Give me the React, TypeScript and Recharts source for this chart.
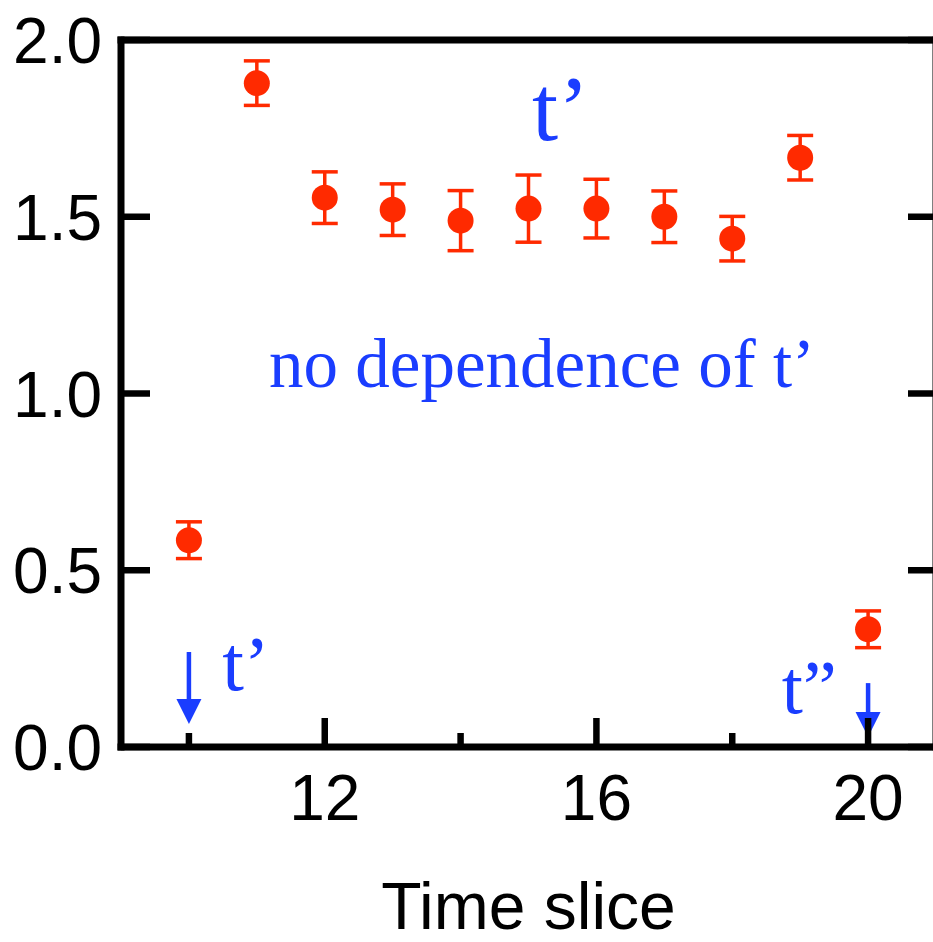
import React from 'react';
import { ScatterChart, Scatter, XAxis, YAxis, ErrorBar, ReferenceDot } from 'recharts';

// data
const timeSlices = [10, 11, 12, 13, 14, 15, 16, 17, 18, 19, 20];
const values = [0.585, 1.878, 1.554, 1.52, 1.489, 1.523, 1.523, 1.5, 1.438, 1.667, 0.333];
const errors = [0.052, 0.063, 0.073, 0.073, 0.085, 0.095, 0.083, 0.073, 0.063, 0.063, 0.052];
const xTicks = [10, 12, 14, 16, 18, 20];
const xLabeled = [12, 16, 20];
const yTicks = [0, 0.5, 1, 1.5, 2];

const data = timeSlices.map((x, i) => ({ x, y: values[i], err: errors[i] }));

const RED = '#ff2a00';
const BLUE = '#1a3dff';
const SANS = '"Liberation Sans", Arial, Helvetica, sans-serif';
const SERIF = '"Liberation Serif", "Times New Roman", serif';

const axisLine = { stroke: '#000', strokeWidth: 7, strokeLinecap: 'square' as const };

const BottomTick = ({ x, y, payload }: any) => {
  const major = xLabeled.includes(payload.value);
  return (
    <g>
      <line x1={x} x2={x} y1={y} y2={y - (major ? 29 : 14)} stroke="#000" strokeWidth={6.5} />
      {major && (
        <text x={x} y={y + 73} textAnchor="middle" fontSize={64} fontFamily={SANS} fill="#000">
          {payload.value}
        </text>
      )}
    </g>
  );
};

const TopTick = ({ x, y, payload }: any) => {
  const major = xLabeled.includes(payload.value);
  return <line x1={x} x2={x} y1={y} y2={y + (major ? 30 : 15)} stroke="#000" strokeWidth={6.5} />;
};

const LeftTick = ({ x, y, payload }: any) => (
  <g>
    <line x1={x} x2={x + 29} y1={y} y2={y} stroke="#000" strokeWidth={6.5} />
    <text x={x - 19} y={y + 23} textAnchor="end" fontSize={64} fontFamily={SANS} fill="#000">
      {payload.value.toFixed(1)}
    </text>
  </g>
);

const RightTick = ({ x, y }: any) => (
  <line x1={x} x2={x - 28} y1={y} y2={y} stroke="#000" strokeWidth={6.5} />
);

const Dot = ({ cx, cy }: any) => <circle cx={cx} cy={cy} r={13} fill={RED} />;

const note = (text: string, size: number) => ({ cx, cy }: any) => (
  <text x={cx} y={cy} fontSize={size} fontFamily={SERIF} fill={BLUE}>
    {text}
  </text>
);

const arrow = (len: number) => ({ cx, cy }: any) => (
  <g>
    <line x1={cx} x2={cx} y1={cy - len} y2={cy - 20} stroke={BLUE} strokeWidth={4.5} />
    <polygon points={`${cx - 12.5},${cy - 25} ${cx + 12.5},${cy - 25} ${cx},${cy}`} fill={BLUE} />
  </g>
);

export default function App() {
  return (
    <div style={{ position: 'fixed', left: 0, top: 0, width: 933, height: 942, overflow: 'hidden', background: '#fff' }}>
      <ScatterChart width={960} height={942} margin={{ top: 0, right: 0, bottom: 0, left: 0 }}>
        <XAxis
          xAxisId="bottom"
          type="number"
          dataKey="x"
          domain={[9, 21]}
          ticks={xTicks}
          interval={0}
          allowDataOverflow
          height={195}
          tickSize={0}
          tickMargin={0}
          tickLine={false}
          axisLine={axisLine}
          tick={<BottomTick />}
          label={{ value: 'Time slice', position: 'insideBottom', offset: 13, fontSize: 66, fill: '#000', fontFamily: SANS }}
        />
        <XAxis
          xAxisId="top"
          orientation="top"
          type="number"
          domain={[9, 21]}
          ticks={xTicks}
          interval={0}
          allowDataOverflow
          height={40}
          tickSize={0}
          tickMargin={0}
          tickLine={false}
          axisLine={axisLine}
          tick={<TopTick />}
        />
        <YAxis
          yAxisId="left"
          type="number"
          dataKey="y"
          domain={[0, 2]}
          ticks={yTicks}
          interval={0}
          allowDataOverflow
          width={121}
          tickSize={0}
          tickMargin={0}
          tickLine={false}
          axisLine={axisLine}
          tick={<LeftTick />}
        />
        <YAxis
          yAxisId="right"
          orientation="right"
          type="number"
          domain={[0, 2]}
          ticks={yTicks}
          interval={0}
          allowDataOverflow
          width={24}
          tickSize={0}
          tickMargin={0}
          tickLine={false}
          axisLine={axisLine}
          tick={<RightTick />}
        />
        <Scatter data={data} xAxisId="bottom" yAxisId="left" shape={<Dot />} isAnimationActive={false}>
          <ErrorBar dataKey="err" direction="y" width={13} stroke={RED} strokeWidth={3.5} isAnimationActive={false} />
        </Scatter>
        <ReferenceDot xAxisId="bottom" yAxisId="left" x={15.05} y={1.717} shape={note('t’', 94)} />
        <ReferenceDot xAxisId="bottom" yAxisId="left" x={11.18} y={1.018} shape={note('no dependence of t’', 69)} />
        <ReferenceDot xAxisId="bottom" yAxisId="left" x={10.49} y={0.161} shape={note('t’', 78)} />
        <ReferenceDot xAxisId="bottom" yAxisId="left" x={18.73} y={0.096} shape={note('t”', 76)} />
        <ReferenceDot xAxisId="bottom" yAxisId="left" x={10} y={0.065} shape={arrow(72)} />
        <ReferenceDot xAxisId="bottom" yAxisId="left" x={20} y={0.028} shape={arrow(54)} />
      </ScatterChart>
    </div>
  );
}
